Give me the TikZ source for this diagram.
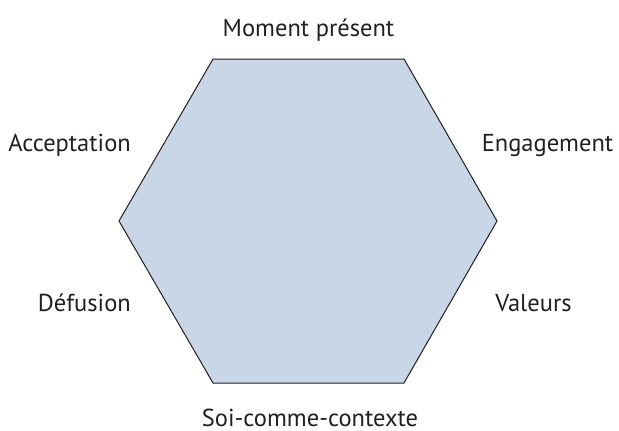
\documentclass[tikz,border=0pt]{standalone}
\usepackage{fontspec}
\setmainfont{PT Sans}
\definecolor{hexfill}{HTML}{C9D6E7}
\definecolor{ink}{HTML}{231F20}
\begin{document}
\begin{tikzpicture}[x=1pt,y=-1pt,
  lbl/.style={text=ink,font=\fontsize{24.5}{29}\selectfont,inner sep=0pt}]
\useasboundingbox (0,0) rectangle (619,431);
% hexagon
\coordinate (v1) at (213,59);
\coordinate (v2) at (404,59);
\coordinate (v3) at (497,221);
\coordinate (v4) at (404,383);
\coordinate (v5) at (213,383);
\coordinate (v6) at (119,221);
\filldraw[fill=hexfill,draw=ink,line width=1pt,line join=miter]
  (v1) -- (v2) -- (v3) -- (v4) -- (v5) -- (v6) -- cycle;
% labels (placed by baseline)
\node[lbl,anchor=base] (top) at (308.5,36) {Moment présent};
\node[lbl,anchor=base east] (acc) at (131,151) {Acceptation};
\node[lbl,anchor=base] (eng) at (547.5,151) {Engagement};
\node[lbl,anchor=base east] (def) at (131,311) {Défusion};
\node[lbl,anchor=base] (val) at (533.5,311) {Valeurs};
\node[lbl,anchor=base] (soi) at (310,426.5) {Soi-comme-contexte};
\end{tikzpicture}
\end{document}
